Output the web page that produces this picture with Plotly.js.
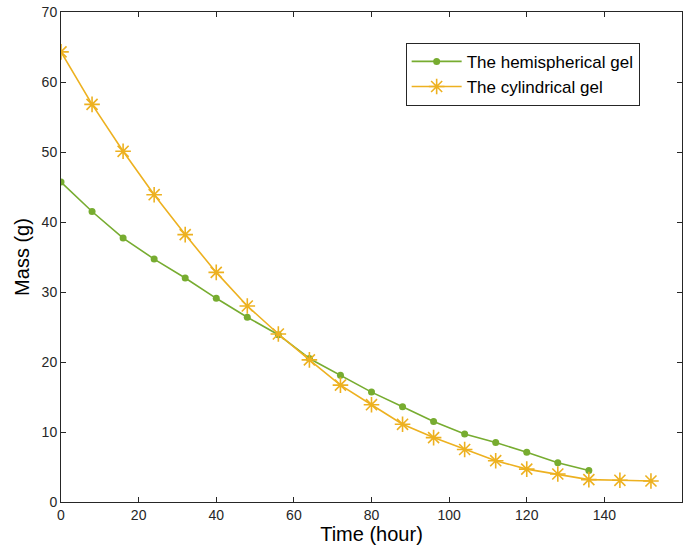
<!DOCTYPE html>
<html>
<head>
<meta charset="utf-8">
<script src="https://cdn.plot.ly/plotly-3.0.1.min.js"></script>
<style>html,body{margin:0;padding:0;background:#fff;}#chart{width:693px;height:554px;}</style>
</head>
<body>
<div id="chart"></div>
<script>
const hemiTime = [0, 8, 16, 24, 32, 40, 48, 56, 64, 72, 80, 88, 96, 104, 112, 120, 128, 136];
const hemiMass = [45.7, 41.5, 37.7, 34.7, 32.0, 29.1, 26.4, 23.9, 20.5, 18.1, 15.7, 13.6, 11.5, 9.7, 8.5, 7.1, 5.6, 4.5];
const cylTime = [0, 8, 16, 24, 32, 40, 48, 56, 64, 72, 80, 88, 96, 104, 112, 120, 128, 136, 144, 152];
const cylMass = [64.3, 56.8, 50.1, 43.9, 38.2, 32.8, 28.0, 24.0, 20.3, 16.7, 13.9, 11.1, 9.2, 7.5, 5.9, 4.7, 4.0, 3.2, 3.1, 3.0];
const seriesNames = ["The hemispherical gel", "The cylindrical gel"];

const FONT = 'Liberation Sans, Arial, Helvetica, sans-serif';
const axisCommon = {
  showline: true, linecolor: '#262626', linewidth: 1, mirror: 'ticks',
  ticks: 'inside', ticklen: 5, tickwidth: 1, tickcolor: '#262626',
  showgrid: false, zeroline: false,
  tickfont: {family: FONT, size: 14, color: '#262626'}
};

const data = [
  {x: hemiTime, y: hemiMass, name: seriesNames[0], type: 'scatter', mode: 'lines+markers',
   line: {color: '#77AC30', width: 1.6},
   marker: {symbol: 'circle', size: 7, color: '#77AC30'}},
  {x: cylTime, y: cylMass, name: seriesNames[1], type: 'scatter', mode: 'lines+markers',
   line: {color: '#EDB120', width: 1.6},
   marker: {symbol: 'asterisk-open', size: 13, color: '#EDB120', line: {color: '#EDB120', width: 1.6}}}
];

const layout = {
  width: 693, height: 554,
  margin: {l: 60.5, r: 11, t: 12, b: 52},
  paper_bgcolor: '#fff', plot_bgcolor: '#fff',
  showlegend: true,
  legend: {x: 0.555, y: 0.937, xanchor: 'left', yanchor: 'top',
    bgcolor: '#fff', bordercolor: '#262626', borderwidth: 1, itemwidth: 50,
    font: {family: FONT, size: 17, color: '#000'}},
  xaxis: Object.assign({}, axisCommon, {range: [0, 160], tickvals: [0,20,40,60,80,100,120,140,160],
    title: {text: 'Time (hour)', standoff: 5, font: {family: FONT, size: 20, color: '#000'}}}),
  yaxis: Object.assign({}, axisCommon, {range: [0, 70], tickvals: [0,10,20,30,40,50,60,70],
    title: {text: 'Mass (g)', standoff: 6, font: {family: FONT, size: 20, color: '#000'}}})
};

Plotly.newPlot('chart', data, layout, {displayModeBar: false, staticPlot: true});
</script>
</body>
</html>
